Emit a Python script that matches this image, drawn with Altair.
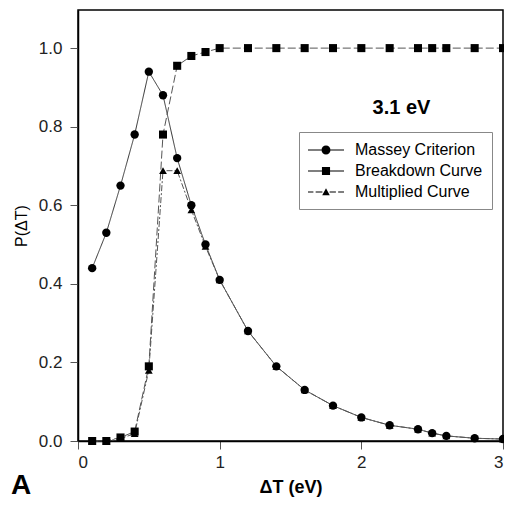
import altair as alt
import pandas as pd

# ---- data ----
dT = [0.1, 0.2, 0.3, 0.4, 0.5, 0.6, 0.7, 0.8, 0.9, 1.0, 1.2, 1.4, 1.6, 1.8,
      2.0, 2.2, 2.4, 2.5, 2.6, 2.8, 3.0]
massey = [0.44, 0.53, 0.65, 0.78, 0.94, 0.88, 0.72, 0.60, 0.50, 0.41, 0.28,
          0.19, 0.13, 0.09, 0.06, 0.04, 0.03, 0.02, 0.013, 0.007, 0.005]
breakdown = [0.0, 0.0, 0.009, 0.024, 0.19, 0.78, 0.955, 0.98, 0.99, 1.0, 1.0,
             1.0, 1.0, 1.0, 1.0, 1.0, 1.0, 1.0, 1.0, 1.0, 1.0]
multiplied = [0.0, 0.0, 0.006, 0.019, 0.18, 0.688, 0.688, 0.588, 0.495, 0.41,
              0.28, 0.19, 0.13, 0.09, 0.06, 0.04, 0.03, 0.02, 0.013, 0.007, 0.005]
series_names = ["Massey Criterion", "Breakdown Curve", "Multiplied Curve"]
x_ticks = [0, 1, 2, 3]
y_ticks = [0.0, 0.2, 0.4, 0.6, 0.8, 1.0]
energy_label = ["3.1 eV"]
panel_label = ["A"]

rows = []
for name, vals in zip(series_names, [massey, breakdown, multiplied]):
    for x, y in zip(dT, vals):
        rows.append({"series": name, "dT": x, "P": y})
df = pd.DataFrame(rows)

FONT = "Liberation Sans"
W, H = 425, 431

x_enc = alt.X("dT:Q", scale=alt.Scale(domain=[0, 3], nice=False, zero=False),
              axis=alt.Axis(values=x_ticks, format="d", title="ΔT (eV)",
                            titleFontWeight="bold", titleFontSize=18,
                            titlePadding=8, labelPadding=5))
y_enc = alt.Y("P:Q", scale=alt.Scale(domain=[0, 1.097], nice=False),
              axis=alt.Axis(values=y_ticks, format=".1f", title="P(ΔT)",
                            titleFontWeight="normal", titleFontSize=16,
                            titlePadding=9, labelPadding=8))

lines = alt.Chart(df).mark_line(strokeWidth=1).encode(
    x=x_enc, y=y_enc,
    color=alt.Color("series:N", scale=alt.Scale(domain=series_names,
                    range=["#333333", "#555555", "#555555"]), legend=None),
    strokeDash=alt.StrokeDash("series:N", scale=alt.Scale(domain=series_names,
                              range=[[1, 0], [8, 3], [6, 2, 2, 2]]), legend=None),
)

points = alt.Chart(df).mark_point(filled=True, opacity=1, color="black").encode(
    x=x_enc, y=y_enc,
    shape=alt.Shape("series:N", scale=alt.Scale(domain=series_names,
                    range=["circle", "square", "triangle-up"]), legend=None),
    size=alt.Size("series:N", scale=alt.Scale(domain=series_names,
                  range=[70, 60, 45]), legend=None),
)

# legend glyphs: thin filled line segments with the marker in the middle (units of 9 px)
legend_paths = [
    "M-1,-0.06H0.5V0.06H-1ZM1.5,-0.06H3V0.06H1.5Z"
    "M0.5,0A0.5,0.5,0,1,0,1.5,0A0.5,0.5,0,1,0,0.5,0Z",
    "M-1,-0.06H0.55V0.06H-1ZM1.45,-0.06H3V0.06H1.45Z"
    "M0.55,-0.45H1.45V0.45H0.55Z",
    "M-1,-0.06H-0.4V0.06H-1ZM-0.15,-0.06H0.6V0.06H-0.15Z"
    "M1.4,-0.06H2.1V0.06H1.4ZM2.35,-0.06H3V0.06H2.35Z"
    "M1,-0.42L1.42,0.36H0.58Z",
]

legend_layer = alt.Chart(df).mark_point(filled=True, opacity=0, color="black").encode(
    x=x_enc, y=y_enc,
    shape=alt.Shape("series:N", scale=alt.Scale(domain=series_names, range=legend_paths),
                    legend=alt.Legend(orient="none", legendX=221, legendY=122,
                                      title=None, symbolSize=324, symbolOpacity=1,
                                      symbolFillColor="black", symbolStrokeWidth=0,
                                      labelFontSize=16, labelFont=FONT,
                                      labelColor="black", labelOffset=29,
                                      strokeColor="#888888", fillColor="white",
                                      padding=9, rowPadding=4)),
)

ev_text = alt.Chart(pd.DataFrame({"t": energy_label})).mark_text(
    font=FONT, fontSize=20, fontWeight="bold", align="center", baseline="alphabetic",
    color="black").encode(x=alt.value(323.5), y=alt.value(104), text="t:N")

a_text = alt.Chart(pd.DataFrame({"t": panel_label})).mark_text(
    font=FONT, fontSize=28, fontWeight="bold", align="left", baseline="alphabetic",
    color="black").encode(x=alt.value(-67), y=alt.value(484), text="t:N")

chart = alt.layer(lines, points, legend_layer, ev_text, a_text).resolve_scale(
    shape="independent", size="independent"
).properties(
    width=W, height=H,
    autosize=alt.AutoSizeParams(type="none"),
    padding={"left": 70, "top": 2, "right": 1, "bottom": 60},
).configure_view(
    stroke="black", strokeWidth=1.5
).configure_axis(
    grid=False, labelFont=FONT, titleFont=FONT, labelFontSize=17,
    labelColor="#222222", titleColor="black", domainColor="black", domainWidth=1.5,
    tickColor="#555555", tickSize=8, tickWidth=1
)

chart.save("out.html", embed_options={"renderer": "svg", "actions": False})
